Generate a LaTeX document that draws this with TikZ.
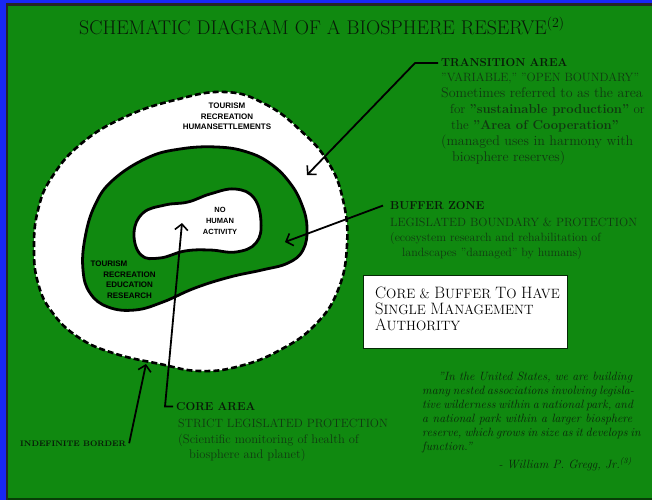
\documentclass[tikz,border=0pt]{standalone}
\usepackage{fontspec}
\setsansfont{Liberation Sans}
\usetikzlibrary{arrows.meta}
\definecolor{bg}{RGB}{16,137,16}
\definecolor{frameblue}{RGB}{24,40,245}
\definecolor{txt}{RGB}{16,58,16}
\definecolor{qt}{RGB}{10,40,10}
\definecolor{hd}{RGB}{8,26,8}
\newcommand\bigini[1]{{\fontsize{16.5}{16}\selectfont #1}}
\newcommand\fs[1]{\fontsize{#1}{16}\selectfont}
\begin{document}
\begin{tikzpicture}[x=1pt,y=-1pt,
  lbl/.style={inner sep=0pt, anchor=base west, align=left, text=txt, font=\fontsize{12}{15.5}\selectfont},
  hdg/.style={inner sep=0pt, anchor=base west, text=hd, font=\fontsize{11.5}{14}\selectfont\bfseries},
  zone/.style={inner sep=0pt, align=center, text=black, font=\sffamily\bfseries\fontsize{8}{10.5}\selectfont},
  conn/.style={draw=black, line width=1.8pt, -{Straight Barb[length=6pt,width=13pt,line width=1.6pt]}},
]
\useasboundingbox (0,0) rectangle (652,500);
\fill[bg] (0,0) rectangle (652,500);
\fill[frameblue] (0,0) rectangle (652,3.5);
\fill[frameblue] (0,0) rectangle (5.5,500);
\fill[black!85] (5.5,3.5) rectangle (652,6);
\fill[black!85] (5.5,3.5) rectangle (7.5,500);
\fill[black!55!bg] (7.5,497.5) rectangle (652,500);

% outer transition area
\filldraw[fill=white, draw=black, line width=2.6pt, dash pattern=on 6pt off 3pt]
  plot[smooth cycle, tension=0.75] coordinates {(225,92) (265,104) (300,130) (328,162) (343,200) (347,245) (338,290) (315,325) (280,350) (240,366) (200,371) (160,364) (113,353) (78,337) (52,312) (38,283) (34,248) (38,210) (52,177) (82,143) (125,117) (175,100)};
% buffer zone
\filldraw[fill=bg, draw=black, line width=2.8pt]
  plot[smooth cycle, tension=0.7] coordinates {(113,180) (147,158) (180,149) (217,147) (247,152) (271,164) (290,183) (302,205) (307,228) (303,250) (288,263) (262,270) (230,277) (195,288) (163,302) (135,310) (108,307) (90,293) (83,270) (85,238) (95,205)};
% core
\filldraw[fill=white, draw=black, line width=2.8pt]
  plot[smooth cycle, tension=0.7] coordinates {(134,233) (143,213) (165,205) (188,202) (210,194) (235,189) (254,198) (261,222) (256,243) (236,252) (210,250) (185,251) (160,258) (141,255)};

\node[zone] (tz1) at (227,116.5) {TOURISM\\RECREATION\\HUMANSETTLEMENTS};
\node[zone] (tz2) at (129.5,279.5) {TOURISM\hspace*{41pt}\\RECREATION\\EDUCATION\\RESEARCH};
\node[zone, font=\sffamily\bfseries\fontsize{7.5}{11}\selectfont] (tz3) at (220,221) {NO\\HUMAN\\ACTIVITY};

\node[anchor=base, inner sep=0pt, font=\fontsize{19.8}{22}\selectfont, text=hd] (title) at (322,35) {SCHEMATIC DIAGRAM OF A BIOSPHERE RESERVE\textsuperscript{(2)}};

\node[hdg] (transH) at (441,67) {TRANSITION AREA};
\node[lbl, font=\fontsize{13}{16}\selectfont] (transB) at (441,161) {\fs{12}"VARIABLE," "OPEN BOUNDARY"\\\fs{14}Sometimes referred to as the area\\\fs{13}\hspace*{9pt}for \textbf{"sustainable production"} or\\\fs{13}\hspace*{10pt}the \textbf{"Area of Cooperation"}\\\fs{14}(managed uses in harmony with\\\fs{14}\hspace*{11pt}biosphere reserves)};

\node[hdg] (bufH) at (390,209.5) {BUFFER ZONE};
\node[lbl, font=\fontsize{12}{15}\selectfont] (bufB) at (390,256) {LEGISLATED BOUNDARY \& PROTECTION\\(ecosystem research and rehabilitation of\\\hspace*{12pt}landscapes "damaged" by humans)};

\node[hdg] (coreH) at (176,410.5) {CORE AREA};
\node[lbl] (coreB) at (178,458.5) {STRICT LEGISLATED PROTECTION\\\fs{12.5}(Scientific monitoring of health of\\\fs{12.5}\hspace*{11pt}biosphere and planet)};

\node[inner sep=0pt, anchor=base west, font=\fontsize{8}{10}\selectfont\bfseries, text=hd] (indef) at (20,446) {INDEFINITE BORDER};

\node[draw=black!70!bg, line width=1pt, fill=white, minimum width=204pt, minimum height=73pt, anchor=north west, inner sep=0pt] (cbox) at (363,275) {};
\node[anchor=base west, align=left, inner sep=0pt, font=\fontsize{13.5}{16}\selectfont, text=black] (cboxT) at (375,330) {\bigini{C}ORE \& \bigini{B}UFFER \bigini{T}O \bigini{H}AVE\\\bigini{S}INGLE \bigini{M}ANAGEMENT\\\bigini{A}UTHORITY};

\node[anchor=base west, align=left, inner sep=0pt, font=\fontsize{12}{14}\selectfont\itshape, text=qt] (quote) at (422,450.5) {\hspace*{16pt}\makebox[194pt][s]{"In the United States, we are building}\\\makebox[210pt][s]{many nested associations involving legisla-}\\\makebox[210pt][s]{tive wilderness within a national park, and}\\\makebox[210pt][s]{a national park within a larger biosphere}\\\makebox[210pt][s]{reserve, which grows in size as it develops in}\\function."};
\node[anchor=base east, inner sep=0pt, font=\fontsize{12}{14}\selectfont\itshape, text=qt] (sig) at (632,468) {- William P. Gregg, Jr.\textsuperscript{(3)}};

\coordinate (tTip) at (307,175);
\coordinate (bTip) at (285,242);
\coordinate (cTip) at (182,223);
\coordinate (iTip) at (146,364);
\coordinate (tStart) at ([xshift=-3pt]transH.west);
\coordinate (tBend) at ([xshift=-26pt]transH.west);
\coordinate (cStart) at ([xshift=-3pt]coreH.west);
\coordinate (cBend) at ([xshift=-11pt]coreH.west);
\draw[conn] (tStart) -- (tBend) -- (tTip);
\draw[conn] ([xshift=-7pt]bufH.west) -- (bTip);
\draw[conn] (cStart) -- (cBend) -- (cTip);
\draw[conn] ([xshift=3pt]indef.east) -- (iTip);
\end{tikzpicture}
\end{document}
